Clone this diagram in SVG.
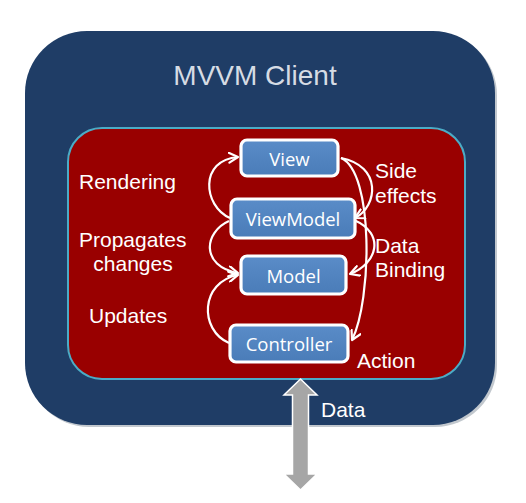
<svg xmlns="http://www.w3.org/2000/svg" width="526" height="503" viewBox="0 0 526 503">
<defs>
<style>
.lbl{font-family:"Liberation Sans",Arial,sans-serif;font-size:21px;fill:#ffffff}
.node rect{fill:#4f81bd;stroke:#ffffff;stroke-width:3.2}
.node text{font-family:"Open Sans","Noto Sans",sans-serif;font-size:18.5px;fill:#ffffff;text-anchor:middle}
.conn path{fill:none;stroke:#ffffff;stroke-width:2.2}
</style>
<marker id="ah" viewBox="0 0 12 12" refX="10" refY="6" markerWidth="12" markerHeight="12" markerUnits="userSpaceOnUse" orient="auto">
<path d="M1,1 L10,6 L1,11" fill="none" stroke="#ffffff" stroke-width="2.2" stroke-linecap="round" stroke-linejoin="round"/>
</marker>
<linearGradient id="ng" x1="0" y1="0" x2="0" y2="1">
<stop offset="0" stop-color="#5a8cc8"/>
<stop offset="1" stop-color="#4a7cb8"/>
</linearGradient>
</defs>
<g id="client">
<rect x="27" y="33" width="470" height="394" rx="62" fill="#9aa3ad" opacity="0.6"/>
<rect x="25" y="31" width="470" height="394" rx="62" fill="#1f3d66"/>
<text x="255" y="85" style="font-family:'Liberation Sans',Arial,sans-serif;font-size:28px;fill:#d6dce4;text-anchor:middle">MVVM Client</text>
</g>
<g id="inner">
<rect x="68" y="128" width="397" height="251" rx="34" fill="#990000" stroke="#4bacc6" stroke-width="2"/>
</g>
<g class="conn" id="connectors">
<path d="M230 218 C203 206 199 160 238 157" marker-end="url(#ah)"/>
<path d="M229 221 C204 232 200 266 238 273" marker-end="url(#ah)"/>
<path d="M229 343 C199 330 200 282 238 275" marker-end="url(#ah)"/>
<path d="M341 158 C382 166 378 206 355 218" marker-end="url(#ah)"/>
<path d="M341 158 C374 172 372 300 352 340" marker-end="url(#ah)"/>
<path d="M354 220 C386 234 377 264 350 274" marker-end="url(#ah)"/>
</g>
<g class="node" id="view"><rect x="241" y="140" width="97" height="36" rx="6" style="fill:url(#ng)"/><text x="289.5" y="166">View</text></g>
<g class="node" id="viewmodel"><rect x="231" y="199" width="124" height="39" rx="6" style="fill:url(#ng)"/><text x="293" y="226">ViewModel</text></g>
<g class="node" id="model"><rect x="241" y="256" width="105" height="38" rx="6" style="fill:url(#ng)"/><text x="293.5" y="283">Model</text></g>
<g class="node" id="controller"><rect x="230" y="325" width="118" height="37" rx="6" style="fill:url(#ng)"/><text x="289" y="351">Controller</text></g>
<g id="labels">
<text class="lbl" x="79" y="189">Rendering</text>
<text class="lbl" x="79" y="247">Propagates</text>
<text class="lbl" x="133" y="271" text-anchor="middle">changes</text>
<text class="lbl" x="89" y="323">Updates</text>
<text class="lbl" x="375" y="178">Side</text>
<text class="lbl" x="375" y="203">effects</text>
<text class="lbl" x="375" y="253">Data</text>
<text class="lbl" x="375" y="277">Binding</text>
<text class="lbl" x="357" y="368">Action</text>
<text class="lbl" x="321" y="417">Data</text>
</g>
<g id="data-arrow">
<polygon points="300.5,379 317,395 308.5,395 308.5,474 317,474 300.5,490 284,474 292.5,474 292.5,395 284,395" fill="#a6a6a6" stroke="#ffffff" stroke-width="1.5"/>
</g>
</svg>
